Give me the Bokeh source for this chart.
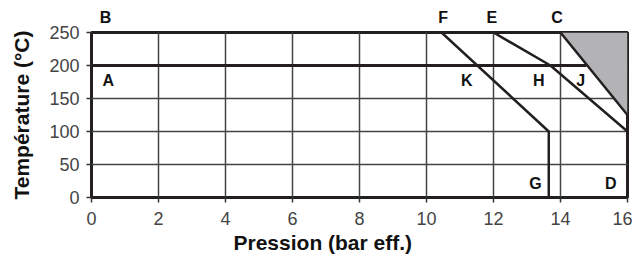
from bokeh.plotting import figure
from bokeh.models import Label, FixedTicker, Range1d, LinearAxis, Title
from bokeh.embed import file_html
from bokeh.resources import INLINE

# ---- data ----
pressure_ticks = [0, 2, 4, 6, 8, 10, 12, 14, 16]
temp_ticks = [0, 50, 100, 150, 200, 250]

line_a_x = [0, 14.77]
line_a_y = [200, 200]

line_f_x = [10.45, 13.65, 13.65]
line_f_y = [250, 100, 0]

line_e_x = [12.0, 13.7, 16.0]
line_e_y = [250, 200, 100]

line_c_x = [14.0, 16.0]
line_c_y = [250, 125]

zone_x = [14.0, 16.0, 16.0]
zone_y = [250, 250, 125]

# letters above the chart (on the 250 °C border)
top_names = ["B", "F", "E", "C"]
top_x = [0.42, 10.5, 11.95, 13.9]

# letters inside the chart
label_names = ["A", "K", "H", "J", "G", "D"]
label_x = [0.5, 11.2, 13.35, 14.6, 13.25, 15.5]
label_y = [177, 177, 177, 177, 21, 21]

INK = "#231f20"

p = figure(output_backend="svg", toolbar_location=None,
           x_range=Range1d(0, 16), y_range=Range1d(0, 250),
           frame_width=536, frame_height=165,
           min_border_left=91, min_border_top=32, min_border_right=5, min_border_bottom=10)

p.outline_line_color = INK
p.outline_line_width = 3
p.background_fill_color = "white"
p.border_fill_color = "white"

p.xaxis.ticker = FixedTicker(ticks=pressure_ticks)
p.yaxis.ticker = FixedTicker(ticks=temp_ticks)
p.xgrid.ticker = FixedTicker(ticks=pressure_ticks)
p.ygrid.ticker = FixedTicker(ticks=temp_ticks)
for g in (p.xgrid, p.ygrid):
    g.grid_line_color = "#444444"
    g.grid_line_width = 1.5

for ax in (p.xaxis, p.yaxis):
    ax.axis_line_color = None
    ax.major_tick_out = 5
    ax.major_tick_in = 0
    ax.major_tick_line_color = "#333333"
    ax.major_tick_line_width = 1.5
    ax.minor_tick_line_color = None
    ax.major_label_text_font = "Liberation Sans"
    ax.major_label_text_font_size = "18px"
    ax.major_label_text_color = "#444444"
    ax.axis_label_text_font = "Liberation Sans"
    ax.axis_label_text_font_size = "21px"
    ax.axis_label_text_font_style = "bold"
    ax.axis_label_text_color = "#111111"

p.yaxis.axis_label = "Température (°C)"
p.xaxis.major_label_standoff = 9
p.yaxis.major_label_standoff = 7
p.yaxis.axis_label_standoff = 13

# x title, placed left of centre as in the original
x_title = Title(text="Pression (bar eff.)", align="left", offset=142, standoff=3,
                text_font="Liberation Sans", text_font_size="21px",
                text_font_style="bold", text_color="#111111")
p.add_layout(x_title, "below")

# top letters as an axis above the frame
top_axis = LinearAxis(ticker=FixedTicker(ticks=top_x),
                      major_label_overrides={x: n for x, n in zip(top_x, top_names)})
top_axis.axis_line_color = None
top_axis.major_tick_line_color = None
top_axis.minor_tick_line_color = None
top_axis.major_tick_out = 0
top_axis.major_tick_in = 0
top_axis.major_label_standoff = 7
top_axis.major_label_text_font = "Liberation Sans"
top_axis.major_label_text_font_style = "bold"
top_axis.major_label_text_font_size = "16px"
top_axis.major_label_text_color = "#111111"
p.add_layout(top_axis, "above")

p.patch(zone_x, zone_y, fill_color="#b3b3b5", line_color=None)

p.line(line_a_x, line_a_y, line_color=INK, line_width=3)
p.line(line_f_x, line_f_y, line_color=INK, line_width=2.5)
p.line(line_e_x, line_e_y, line_color=INK, line_width=2.5)
p.line(line_c_x, line_c_y, line_color=INK, line_width=2.5)

for name, lx, ly in zip(label_names, label_x, label_y):
    p.add_layout(Label(x=lx, y=ly, text=name, text_align="center", text_baseline="middle",
                       text_font="Liberation Sans", text_font_style="bold",
                       text_font_size="16px", text_color="#111111"))

open("out.html", "w").write(file_html(p, INLINE))
